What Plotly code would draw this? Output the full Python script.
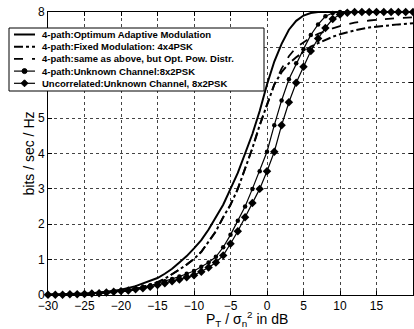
import plotly.graph_objects as go

# ---------------- data ----------------
series_names = [
    "4-path:Optimum Adaptive Modulation",
    "4-path:Fixed Modulation: 4x4PSK",
    "4-path:same as above, but Opt. Pow. Distr.",
    "4-path:Unknown Channel:8x2PSK",
    "Uncorrelated:Unknown Channel, 8x2PSK",
]

# optimum adaptive modulation (solid)
opt_x = [-30, -28, -26, -24, -22, -20, -18, -16, -15, -14, -13, -12, -11, -10, -9, -8, -7,
         -6, -5, -4, -3, -2, -1, 0, 1, 2, 3, 4, 5, 6, 7, 8, 10, 12, 15, 20]
opt_y = [0.01, 0.02, 0.03, 0.05, 0.09, 0.15, 0.25, 0.40, 0.48, 0.60, 0.74, 0.92, 1.10, 1.32,
         1.55, 1.85, 2.20, 2.55, 3.00, 3.45, 4.00, 4.55, 5.20, 5.95, 6.60, 7.10, 7.50, 7.75,
         7.90, 7.97, 8.00, 8.00, 8.00, 8.00, 8.00, 8.00]

# fixed modulation 4x4PSK (dash-dot) and same with opt. power distribution (dashed)
fix_x = [-30, -28, -26, -24, -22, -20, -18, -16, -15, -14, -13, -12, -11, -10, -9, -8, -7,
         -6, -5, -4, -3, -2, -1, 0, 1, 2, 3, 4, 5, 6, 7, 8, 9, 10, 12, 14, 16, 18, 20]
fixed_y = [0.01, 0.01, 0.02, 0.04, 0.06, 0.10, 0.16, 0.28, 0.36, 0.46, 0.58, 0.72, 0.86, 1.02,
           1.22, 1.50, 1.80, 2.20, 2.55, 3.00, 3.55, 4.15, 4.80, 5.40, 5.95, 6.30, 6.55, 6.72,
           6.88, 7.02, 7.12, 7.22, 7.30, 7.37, 7.48, 7.56, 7.61, 7.65, 7.68]
optpow_y = [0.01, 0.01, 0.02, 0.04, 0.06, 0.10, 0.16, 0.28, 0.36, 0.46, 0.58, 0.72, 0.86, 1.02,
            1.22, 1.50, 1.80, 2.20, 2.55, 3.00, 3.55, 4.15, 4.80, 5.40, 5.95, 6.40, 6.75, 7.00,
            7.15, 7.28, 7.38, 7.47, 7.54, 7.60, 7.70, 7.76, 7.80, 7.83, 7.85]

# unknown channel curves (with markers), one value per dB from -30 to 20
snr_db = list(range(-30, 21))
unk4_y = [0.01, 0.01, 0.02, 0.02, 0.03, 0.04, 0.05, 0.06, 0.08, 0.10,
          0.12, 0.15, 0.18, 0.22, 0.27, 0.33, 0.39, 0.45, 0.52, 0.60,
          0.68, 0.80, 0.92, 1.08, 1.35, 1.70, 2.10, 2.50, 3.00, 3.50,
          4.05, 4.80, 5.50, 6.10, 6.55, 6.95, 7.35, 7.65, 7.88, 7.97,
          8.00, 8.00, 8.00, 8.00, 8.00, 8.00, 8.00, 8.00, 8.00, 8.00, 8.00]
unc_y = [0.01, 0.01, 0.01, 0.02, 0.02, 0.03, 0.04, 0.05, 0.07, 0.09,
         0.11, 0.13, 0.16, 0.19, 0.23, 0.28, 0.33, 0.39, 0.44, 0.50,
         0.56, 0.66, 0.78, 0.92, 1.12, 1.45, 1.80, 2.20, 2.60, 3.00,
         3.50, 4.05, 4.80, 5.45, 6.00, 6.45, 6.90, 7.25, 7.55, 7.80,
         7.93, 7.98, 8.00, 8.00, 8.00, 8.00, 8.00, 8.00, 8.00, 8.00, 8.00]

x_ticks = [-30, -25, -20, -15, -10, -5, 0, 5, 10, 15, 20]
y_ticks = [0, 1, 2, 3, 4, 5, 6, 7, 8]

# ---------------- figure ----------------
FONT = "Liberation Sans, Arial, Helvetica, sans-serif"
styles = [
    dict(dash="solid", width=2.0, marker=None, msize=0),
    dict(dash="dashdot", width=2.0, marker=None, msize=0),
    dict(dash="dash", width=1.8, marker=None, msize=0),
    dict(dash="solid", width=1.2, marker="circle", msize=4.5),
    dict(dash="solid", width=1.2, marker="diamond", msize=6.5),
]
xs = [opt_x, fix_x, fix_x, snr_db, snr_db]
ys = [opt_y, fixed_y, optpow_y, unk4_y, unc_y]

fig = go.Figure()
for name, x, y, st in zip(series_names, xs, ys, styles):
    kw = dict(x=x, y=y, name=name, showlegend=False,
              line=dict(color="black", width=st["width"], dash=st["dash"]))
    if st["marker"]:
        kw.update(mode="lines+markers", cliponaxis=False,
                  marker=dict(symbol=st["marker"], size=st["msize"], color="black"))
    else:
        kw.update(mode="lines")
    fig.add_trace(go.Scatter(**kw))

# ---- legend box drawn in pixel offsets from the plot's top-left corner ----
shapes = [dict(type="rect", xref="paper", yref="paper",
               xsizemode="pixel", ysizemode="pixel", xanchor=0, yanchor=1,
               x0=-39, x1=216, y0=-16, y1=-79,
               line=dict(color="black", width=1), fillcolor="white", layer="above")]
annotations = []
for i, (name, st) in enumerate(zip(series_names, styles)):
    row = -(22.5 + 12.2 * i)
    shapes.append(dict(type="line", xref="paper", yref="paper",
                       xsizemode="pixel", ysizemode="pixel", xanchor=0, yanchor=1,
                       x0=-34, x1=-13, y0=row, y1=row, layer="above",
                       line=dict(color="black", width=st["width"], dash=st["dash"])))
    if st["marker"] == "circle":
        shapes.append(dict(type="circle", xref="paper", yref="paper",
                           xsizemode="pixel", ysizemode="pixel", xanchor=0, yanchor=1,
                           x0=-26, x1=-21, y0=row - 2.5, y1=row + 2.5, layer="above",
                           line=dict(color="black", width=1), fillcolor="black"))
    elif st["marker"] == "diamond":
        cx, h = -23.5, 3.5
        shapes.append(dict(type="path", xref="paper", yref="paper",
                           xsizemode="pixel", ysizemode="pixel", xanchor=0, yanchor=1,
                           path=f"M {cx},{row + h} L {cx + h},{row} L {cx},{row - h} L {cx - h},{row} Z",
                           layer="above", line=dict(color="black", width=1), fillcolor="black"))
    annotations.append(dict(x=0, y=1, xref="paper", yref="paper", xanchor="left",
                            yanchor="middle", xshift=-8.5, yshift=row, showarrow=False,
                            text=f"<b>{name}</b>",
                            font=dict(family=FONT, size=9.5, color="black")))

# x-axis title (placed as in the original, a bit right of centre)
annotations.append(dict(x=0.545, y=0, xref="paper", yref="paper", xanchor="center",
                        yanchor="middle", yshift=-24, showarrow=False,
                        text="P<sub>T</sub> / σ<sub>n</sub><sup>2</sup> in dB",
                        font=dict(family=FONT, size=14, color="black")))

axis_common = dict(showgrid=True, gridcolor="#444", griddash="dot", gridwidth=1,
                   showline=True, linecolor="black", linewidth=1, mirror="ticks",
                   ticks="inside", ticklen=4, tickcolor="black", zeroline=False,
                   tickfont=dict(family=FONT, size=12, color="black"))

fig.update_layout(
    width=414, height=329,
    margin=dict(l=48, r=1, t=12, b=34),
    paper_bgcolor="white", plot_bgcolor="white",
    font=dict(family=FONT, color="black"),
    xaxis=dict(range=[-30, 20], tickvals=x_ticks, **axis_common),
    yaxis=dict(range=[0, 8], tickvals=y_ticks,
               title=dict(text="bits / sec / Hz", standoff=0,
                          font=dict(family=FONT, size=14, color="black")),
               **axis_common),
    shapes=shapes,
    annotations=annotations,
)

# remove the browser's default page margin so the figure sits at the window's corner
fig.write_html("out.html", config={"displayModeBar": False},
               post_script="document.body.style.margin='0';")
